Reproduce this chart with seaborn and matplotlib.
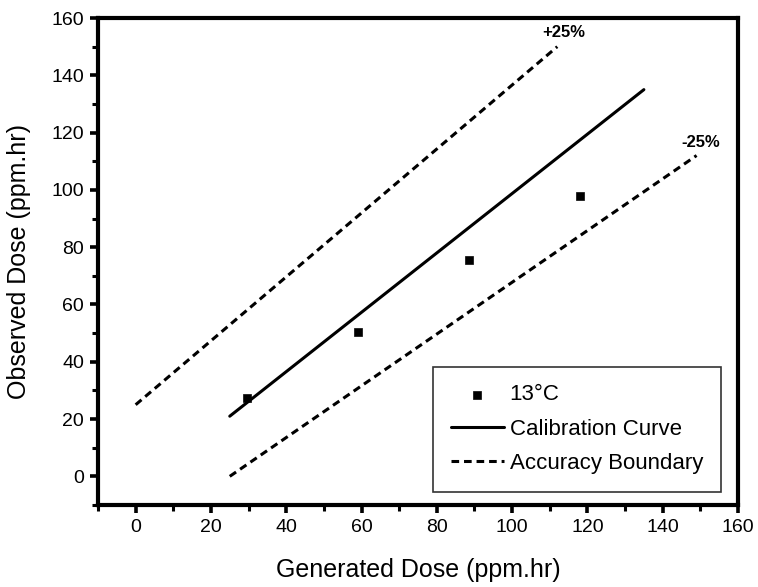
import matplotlib
matplotlib.use("Agg")
import matplotlib.pyplot as plt
import seaborn as sns
from matplotlib.ticker import MultipleLocator

sns.set_style("ticks")
plt.rcParams['font.family'] = ['Liberation Sans', 'DejaVu Sans']
plt.rcParams['text.color'] = 'black'
plt.rcParams['axes.labelcolor'] = 'black'
plt.rcParams['xtick.color'] = 'black'
plt.rcParams['ytick.color'] = 'black'

# data
gen_dose = [29.5, 59, 88.5, 118]
obs_dose = [27.5, 50.5, 75.5, 98]
calib_x = [25, 135]
calib_y = [21, 135]
upper_x = [0, 112]
upper_y = [25, 150]
lower_x = [25, 149]
lower_y = [0, 112]

fig = plt.figure(figsize=(7.58, 5.87), dpi=100)
ax = fig.add_axes([0.1293, 0.1397, 0.8443, 0.8296])

dash = (0, (2.5, 1.6))
sns.lineplot(x=calib_x, y=calib_y, ax=ax, color='black', lw=2.2, label='Calibration Curve')
sns.lineplot(x=upper_x, y=upper_y, ax=ax, color='black', lw=2.2, linestyle=dash,
             label='Accuracy Boundary')
sns.lineplot(x=lower_x, y=lower_y, ax=ax, color='black', lw=2.2, linestyle=dash)
sns.scatterplot(x=gen_dose, y=obs_dose, ax=ax, color='black', marker='s', s=35,
                edgecolor='black', label='13°C', zorder=5)

ax.text(113.8, 154.8, '+25%', fontsize=12, fontweight='bold', ha='center', va='center')
ax.text(150, 116.5, '-25%', fontsize=12, fontweight='bold', ha='center', va='center')

ax.set_xlim(-10, 160)
ax.set_ylim(-10, 160)
ax.xaxis.set_major_locator(MultipleLocator(20))
ax.xaxis.set_minor_locator(MultipleLocator(10))
ax.yaxis.set_major_locator(MultipleLocator(20))
ax.yaxis.set_minor_locator(MultipleLocator(10))
ax.tick_params(which='major', direction='out', length=6, width=2.6, labelsize=14, pad=4)
ax.tick_params(which='minor', direction='out', length=4, width=2.2)
for sp in ax.spines.values():
    sp.set_linewidth(3)
    sp.set_color('black')

ax.set_xlabel('Generated Dose (ppm.hr)', fontsize=18, labelpad=16)
ax.set_ylabel('Observed Dose (ppm.hr)', fontsize=18, labelpad=15)

handles, labels = ax.get_legend_handles_labels()
order = [labels.index('13°C'), labels.index('Calibration Curve'), labels.index('Accuracy Boundary')]
leg = ax.legend([handles[i] for i in order], [labels[i] for i in order],
                loc='lower right', bbox_to_anchor=(0.973, 0.027), borderaxespad=0,
                fontsize=16, frameon=True, fancybox=False, edgecolor='black',
                handlelength=2.4, borderpad=0.8, labelspacing=0.6, handletextpad=0.25)
leg.get_frame().set_linewidth(1.2)

fig.savefig('out.png', dpi=100)
